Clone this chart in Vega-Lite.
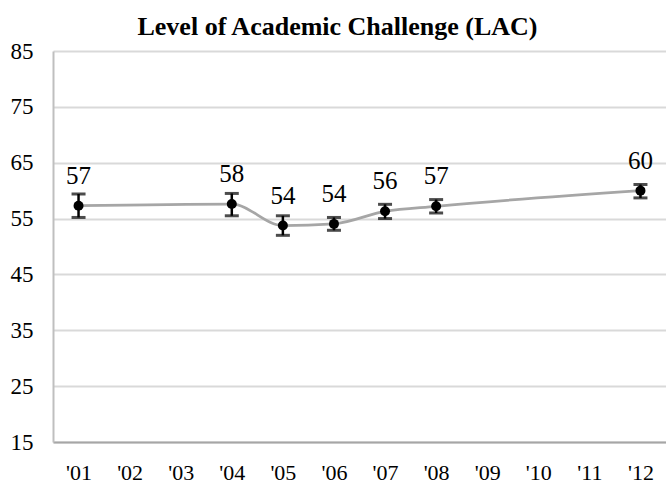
{
  "$schema": "https://vega.github.io/schema/vega-lite/v6.json",
  "width": 613,
  "height": 391,
  "autosize": {"type": "none"},
  "padding": {"left": 53, "top": 51, "right": 0, "bottom": 42},
  "background": "white",
  "title": {
    "text": "Level of Academic Challenge (LAC)",
    "font": "Liberation Serif",
    "fontSize": 26,
    "fontWeight": "bold",
    "color": "black",
    "anchor": "middle",
    "baseline": "alphabetic",
    "offset": -21,
    "dx": -22
  },
  "config": {
    "view": {"stroke": null},
    "axis": {"labelFont": "Liberation Serif", "labelColor": "black", "ticks": false, "title": null}
  },
  "data": {
    "values": [
      {"year": "'01", "mean": 57.3, "lo": 55.2, "hi": 59.4},
      {"year": "'04", "mean": 57.6, "lo": 55.5, "hi": 59.5},
      {"year": "'05", "mean": 53.75, "lo": 52.0, "hi": 55.5},
      {"year": "'06", "mean": 54.05, "lo": 52.9, "hi": 55.2},
      {"year": "'07", "mean": 56.3, "lo": 55.0, "hi": 57.55},
      {"year": "'08", "mean": 57.2, "lo": 56.0, "hi": 58.4},
      {"year": "'12", "mean": 60.0, "lo": 58.7, "hi": 61.1}
    ]
  },
  "encoding": {
    "x": {
      "field": "year",
      "type": "nominal",
      "scale": {"type": "point", "padding": 0.5, "domain": ["'01", "'02", "'03", "'04", "'05", "'06", "'07", "'08", "'09", "'10", "'11", "'12"]},
      "axis": {"labelAngle": 0, "labelFontSize": 22, "labelPadding": 20, "domainColor": "#A6A6A6", "domainWidth": 2, "grid": false}
    }
  },
  "layer": [
    {
      "mark": {"type": "rule", "color": "white", "opacity": 0},
      "encoding": {
        "y": {
          "field": "mean",
          "type": "quantitative",
          "scale": {"domain": [15, 85], "nice": false, "zero": false},
          "axis": {"values": [15, 25, 35, 45, 55, 65, 75, 85], "labelFontSize": 23, "labelPadding": 20, "grid": true, "gridColor": "#D9D9D9", "gridWidth": 2, "domainColor": "#BFBFBF", "domainWidth": 2}
        }
      }
    },
    {
      "mark": {"type": "line", "color": "#A6A6A6", "strokeWidth": 2.75, "interpolate": "monotone"},
      "encoding": {"y": {"field": "mean", "type": "quantitative"}}
    },
    {
      "mark": {"type": "rule", "color": "black", "strokeWidth": 2.5},
      "encoding": {"y": {"field": "lo", "type": "quantitative"}, "y2": {"field": "hi"}}
    },
    {
      "mark": {"type": "tick", "color": "black", "thickness": 3, "size": 14, "orient": "horizontal"},
      "encoding": {"y": {"field": "lo", "type": "quantitative"}}
    },
    {
      "mark": {"type": "tick", "color": "black", "thickness": 3, "size": 14, "orient": "horizontal"},
      "encoding": {"y": {"field": "hi", "type": "quantitative"}}
    },
    {
      "mark": {"type": "point", "filled": true, "color": "black", "size": 100, "opacity": 1},
      "encoding": {"y": {"field": "mean", "type": "quantitative"}}
    },
    {
      "mark": {"type": "text", "font": "Liberation Serif", "fontSize": 25, "color": "black", "baseline": "alphabetic", "dy": -22},
      "encoding": {
        "y": {"field": "mean", "type": "quantitative"},
        "text": {"field": "mean", "type": "quantitative", "format": ".0f"}
      }
    }
  ]
}
